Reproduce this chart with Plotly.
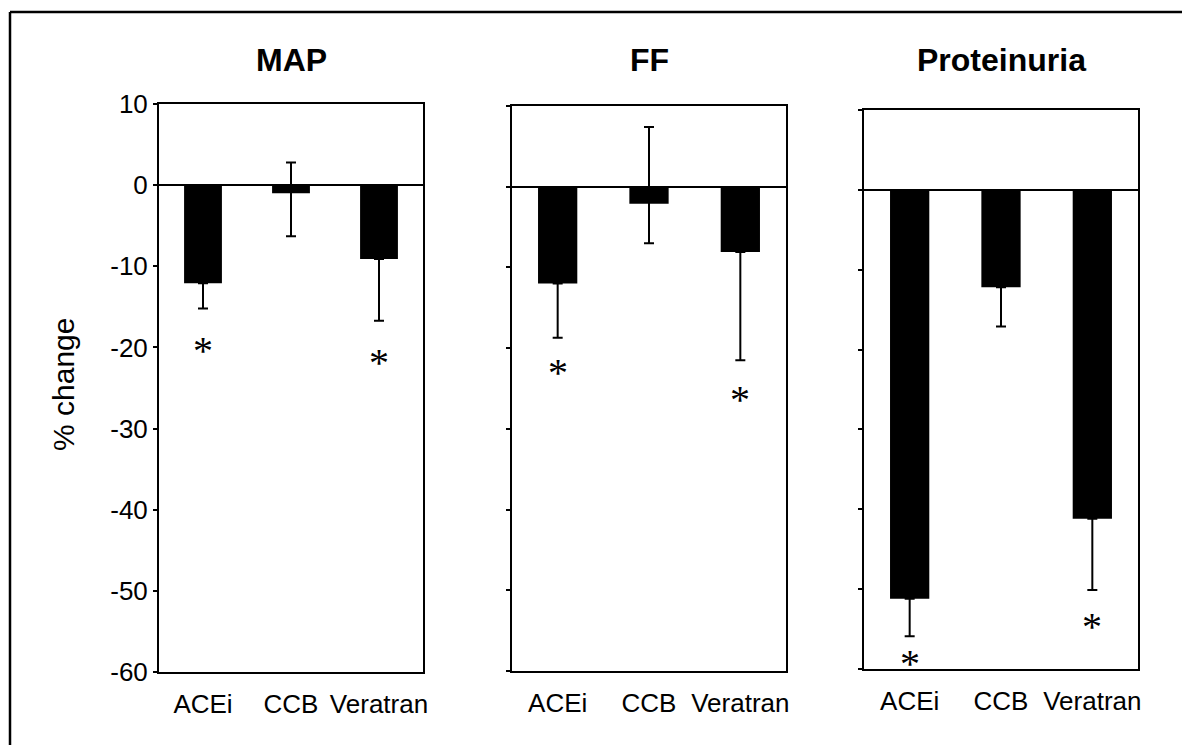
import plotly.graph_objects as go

W, H = 1182, 745

categories = ["ACEi", "CCB", "Veratran"]
panel_titles = ["MAP", "FF", "Proteinuria"]
y_ticks = [10, 0, -10, -20, -30, -40, -50, -60]
y_tick_text = ["10", "0", "-10", "-20", "-30", "-40", "-50", "-60"]

map_values = [-12.1, -1.0, -9.1]
map_err_plus = [0.0, 3.8, 0.0]
map_err_minus = [3.1, 5.3, 7.6]
map_star = [-19.8, None, -21.3]

ff_values = [-12.0, -2.1, -8.1]
ff_err_plus = [0.0, 9.5, 0.0]
ff_err_minus = [6.7, 4.9, 13.4]
ff_star = [-22.4, None, -25.7]

prot_values = [-51.2, -12.2, -41.2]
prot_err_plus = [0.0, 0.0, 0.0]
prot_err_minus = [4.7, 4.9, 8.9]
prot_star = [-58.7, None, -54.0]

panels = [
    (map_values, map_err_plus, map_err_minus, map_star),
    (ff_values, ff_err_plus, ff_err_minus, ff_star),
    (prot_values, prot_err_plus, prot_err_minus, prot_star),
]

# pixel boxes of the three plot areas: (left, right, top, bottom)
boxes = [(159, 423, 104, 672), (512, 786, 106, 671), (864, 1138, 110, 669)]

FONT = "Liberation Sans, Arial, sans-serif"
fig = go.Figure()
annotations = []

for i, ((vals, ep, em, stars), (l, r, t, b)) in enumerate(zip(panels, boxes)):
    n = "" if i == 0 else str(i + 1)
    fig.add_trace(go.Bar(
        x=categories, y=vals, width=0.43,
        marker=dict(color="black", line=dict(width=0)),
        error_y=dict(type="data", symmetric=False, array=ep, arrayminus=em,
                     color="black", thickness=2, width=5),
        xaxis="x" + n, yaxis="y" + n, showlegend=False,
    ))
    for c, s in zip(categories, stars):
        if s is not None:
            annotations.append(dict(
                x=c, y=s, xref="x" + n, yref="y" + n, text="*", showarrow=False,
                font=dict(family="Liberation Serif, Times New Roman, serif", size=40, color="black"),
                xanchor="center", yanchor="middle", yshift=-5,
            ))
    xa = dict(domain=[l / W, r / W], type="category", range=[-0.5, 2.5],
              showline=True, linecolor="black", linewidth=2, mirror=True,
              ticks="", showgrid=False, zeroline=False, automargin=False,
              tickfont=dict(family=FONT, size=26, color="black"),
              ticklabelstandoff=8, anchor="y" + n, fixedrange=True)
    ya = dict(domain=[1 - b / H, 1 - t / H], range=[-60, 10],
              tickmode="array", tickvals=y_ticks, ticktext=y_tick_text,
              showline=True, linecolor="black", linewidth=2, mirror=True,
              ticks="outside", ticklen=4, tickwidth=2, tickcolor="black",
              showgrid=False, zeroline=True, zerolinecolor="black", zerolinewidth=1.8,
              showticklabels=(i == 0), automargin=False,
              tickfont=dict(family=FONT, size=26, color="black"),
              ticklabelstandoff=0, anchor="x" + n, fixedrange=True)
    fig.layout["xaxis" + n] = xa
    fig.layout["yaxis" + n] = ya
    annotations.append(dict(
        x=(l + r) / 2 / W, y=1 - 60 / H, xref="paper", yref="paper",
        text="<b>%s</b>" % panel_titles[i], showarrow=False,
        font=dict(family=FONT, size=32, color="black"),
        xanchor="center", yanchor="middle",
    ))

annotations.append(dict(
    x=63 / W, y=1 - 385 / H, xref="paper", yref="paper", text="% change",
    showarrow=False, textangle=-90, font=dict(family=FONT, size=30, color="black"),
    xanchor="center", yanchor="middle",
))

shapes = [
    dict(type="line", xref="paper", yref="paper", x0=10 / W, x1=1.0, y0=1 - 12 / H, y1=1 - 12 / H,
         line=dict(color="black", width=2.5)),
    dict(type="line", xref="paper", yref="paper", x0=10 / W, x1=10 / W, y0=0.0, y1=1 - 12 / H,
         line=dict(color="black", width=2.5)),
]

fig.update_layout(
    width=W, height=H, margin=dict(l=0, r=0, t=0, b=0, autoexpand=False),
    paper_bgcolor="white", plot_bgcolor="white",
    annotations=annotations, shapes=shapes,
    font=dict(family=FONT, color="black"),
)

fig.write_html("out.html", config={"displayModeBar": False},
               post_script="document.body.style.margin='0';document.body.style.overflow='hidden';")
